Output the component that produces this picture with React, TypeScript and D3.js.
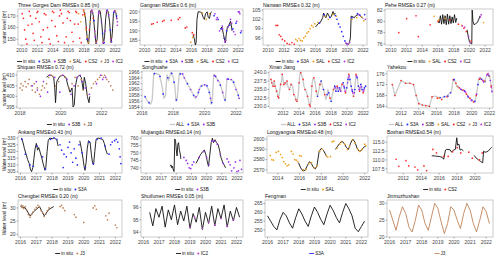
import * as React from 'react';
import * as d3 from 'd3';

type Pt = [number, number];
type Key = 'in situ' | 'ALL' | 'S3A' | 'S3B' | 'SAL' | 'CS2' | 'J3' | 'IC2';

const colors: Record<Key, string> = {
  'in situ': '#111111',
  ALL: '#c9c9c9',
  S3A: '#2c2cff',
  S3B: '#9a30f2',
  SAL: '#f0a020',
  CS2: '#ff2b2b',
  J3: '#c0835a',
  IC2: '#c03fd8',
};

// ---- Three Gorges Dam ----
const tgInSitu: Pt[] = [[2018.0,174],[2018.2,168],[2018.45,148],[2018.6,146],[2018.75,160],[2018.9,174],[2019.05,175],[2019.2,170],[2019.4,156],[2019.55,146],[2019.7,150],[2019.85,170],[2019.95,175],[2020.1,174],[2020.3,163],[2020.5,146],[2020.65,152],[2020.8,168],[2020.95,175],[2021.1,174],[2021.3,165],[2021.5,147],[2021.65,155],[2021.8,172],[2021.95,175],[2022.1,173],[2022.25,167]];
const tgCS2: Pt[] = [[2010.05,172],[2010.2,168],[2010.35,158],[2010.5,150],[2010.65,146],[2010.8,162],[2010.95,174],[2011.1,170],[2011.3,163],[2011.45,155],[2011.6,149],[2011.8,168],[2011.95,173],[2012.05,174],[2012.25,165],[2012.45,152],[2012.6,147],[2012.75,158],[2012.9,172],[2013.1,171],[2013.3,160],[2013.5,150],[2013.65,146],[2013.85,166],[2013.95,174],[2014.1,173],[2014.3,161],[2014.5,153],[2014.7,148],[2014.85,170],[2014.95,175],[2015.1,172],[2015.3,164],[2015.5,147],[2015.7,152],[2015.85,168],[2015.95,174],[2016.1,173],[2016.25,166],[2016.45,156],[2016.6,148],[2016.8,163],[2016.95,174],[2017.05,173],[2017.25,163],[2017.45,151],[2017.65,147],[2017.85,171],[2017.95,175],[2018.1,172],[2018.3,160],[2018.5,150],[2018.7,158],[2018.9,174],[2019.2,168],[2019.6,148]];
const tgSAL: Pt[] = [[2017.3,172],[2017.6,165],[2017.95,174],[2018.1,170],[2018.25,158],[2018.4,152],[2018.55,147],[2018.8,165],[2019.0,174]];
const tgS3A: Pt[] = [[2018.4,150],[2018.95,174],[2019.3,166],[2019.6,147],[2020.0,174],[2020.4,155],[2020.6,147],[2021.0,175],[2021.4,158],[2021.85,173],[2022.2,170]];
const tgS3B: Pt[] = [[2019.1,173],[2019.45,152],[2019.9,173],[2020.25,165],[2020.7,157],[2021.2,171],[2021.55,148],[2022.0,174],[2022.3,165]];
const tgJ3: Pt[] = [[2019.05,174],[2019.55,147],[2020.05,174],[2020.5,148],[2021.05,174],[2021.6,152],[2022.05,174]];
const tgIC2: Pt[] = [[2019.0,175],[2019.4,157],[2019.9,172],[2020.45,147],[2020.9,174],[2021.45,150],[2021.9,174],[2022.2,168],[2022.3,162]];

// ---- Gangnan ----
const gnInSitu: Pt[] = [[2016.2,188],[2016.35,186],[2016.5,182.5],[2016.6,184],[2016.7,196],[2016.85,200],[2017.1,200],[2017.3,199.5],[2017.5,197],[2017.65,196],[2017.8,199],[2018.0,200],[2018.15,197],[2018.3,196.5],[2018.45,199.5],[2018.6,200],[2019.7,191],[2019.9,192],[2020.1,188],[2020.25,185],[2020.35,184],[2020.45,188],[2020.6,192],[2020.8,193],[2021.0,195],[2021.1,193],[2021.2,190]];
const gnCS2: Pt[] = [[2010.9,193.5],[2011.1,193.8],[2011.6,194.5],[2012.3,195],[2012.5,195.5],[2013.4,195.5],[2014.3,196],[2014.5,197],[2015.2,191.5],[2015.4,192],[2016.1,189],[2016.3,188]];
const gnSAL: Pt[] = [[2015.9,184],[2016.15,186.5],[2017.4,199.5],[2017.9,196],[2018.3,199]];
const gnS3A: Pt[] = [[2018.9,198],[2019.4,196],[2019.8,191],[2020.2,186],[2020.5,190],[2020.9,193],[2021.3,191],[2021.7,194],[2022.1,200],[2022.3,189]];
const gnS3B: Pt[] = [[2019.0,199],[2019.3,197],[2019.6,190],[2019.95,192.5],[2020.3,184],[2020.7,192],[2021.0,196],[2021.4,189.5],[2021.8,195],[2022.0,200],[2022.2,199],[2022.4,190]];
const gnIC2: Pt[] = [[2019.2,196],[2020.0,191],[2020.4,185],[2021.15,194],[2021.6,188],[2022.15,200]];

// ---- Nanwan ----
const nwInSitu: Pt[] = [[2016.0,99.5],[2016.3,100.5],[2016.6,101],[2016.9,102.5],[2017.0,104],[2017.15,103],[2017.3,102.5],[2017.5,104],[2017.7,103],[2017.85,102.5],[2018.0,103],[2018.2,104.5],[2018.35,103.5],[2018.5,104],[2019.8,94.5],[2019.95,94],[2020.1,93.9],[2020.25,94.2],[2020.4,96],[2020.5,103],[2020.7,102.8],[2020.9,102.5],[2021.1,103.2],[2021.4,103.5],[2021.7,103],[2022.0,102.2]];
const nwCS2: Pt[] = [[2011.0,100],[2011.2,100],[2011.4,97],[2011.6,96.5],[2011.8,95.5],[2012.1,95],[2012.4,94.2],[2012.7,93.9],[2013.0,94.5],[2013.3,94]];
const nwSAL: Pt[] = [[2013.5,95.5],[2013.7,95],[2013.9,95.8],[2014.1,95.2],[2014.3,95],[2014.5,96],[2014.7,96.5],[2014.9,97.5],[2015.1,98],[2015.3,99],[2015.5,100],[2015.7,99.5],[2015.9,100.5],[2016.3,101],[2017.2,103],[2017.6,102],[2018.2,103.5],[2018.6,103],[2020.6,102],[2021.2,102.5],[2021.8,102.8],[2022.1,101.5]];
const nwS3A: Pt[] = [[2016.5,100.8],[2017.1,103.5],[2017.8,102.6],[2018.5,103.2],[2018.7,102],[2018.9,100.5],[2019.1,99.5],[2019.3,98],[2019.5,96.5],[2019.7,95],[2020.0,94],[2020.6,102.5],[2021.3,103.8],[2021.6,103.3],[2022.2,103.5]];
const nwIC2: Pt[] = [[2019.85,94.3],[2020.05,93.9],[2020.3,94.5],[2021.5,103.5],[2022.3,102]];

// ---- Pehe ----
const phInSitu: Pt[] = [[2016.0,80.1],[2016.15,79.7],[2016.3,81],[2016.45,79.5],[2016.6,81.2],[2016.75,79.6],[2016.9,81],[2017.05,79.4],[2017.2,81.3],[2017.35,79.5],[2017.5,81],[2017.65,79.6],[2017.8,80.8],[2017.95,79.7],[2018.1,81.2],[2018.25,79.8],[2018.4,80.6],[2019.7,78.5],[2019.85,77.3],[2020.0,76.4],[2020.15,76.1],[2020.3,76],[2020.35,82],[2020.45,80],[2020.6,79.4],[2020.8,79.6],[2021.0,79.8],[2021.2,80.4],[2021.35,81]];
const phCS2: Pt[] = [[2011.0,78],[2012.0,80.5],[2013.2,81],[2013.5,77.3],[2015.0,79.4],[2016.0,80],[2017.5,80.2],[2018.6,79.5],[2019.3,78.8],[2019.6,78.2],[2020.2,76.5]];
const phSAL: Pt[] = [[2015.5,80.9],[2016.1,80.3],[2016.9,80.5],[2019.0,79.3],[2021.8,79.8]];
const phIC2: Pt[] = [[2019.1,79.2],[2019.4,79],[2019.9,77.3],[2020.1,76.2],[2021.4,80.8],[2021.5,81.2]];

// ---- Shiquan ----
const sqInSitu: Pt[] = [[2019.3,409],[2019.4,410],[2019.55,410],[2019.65,409],[2019.7,404],[2019.74,397],[2019.8,407],[2019.95,409.5],[2020.1,410],[2020.25,409],[2020.35,405],[2020.45,402],[2020.55,404],[2020.6,395],[2020.66,396],[2020.72,405],[2020.8,409],[2020.9,410],[2021.0,409],[2021.1,403],[2021.15,409],[2021.22,406],[2021.3,400],[2021.38,397],[2021.42,400]];
const sqS3B: Pt[] = [[2018.6,405],[2018.8,407],[2018.85,403],[2019.0,400],[2019.15,407],[2019.35,402],[2019.45,410],[2019.7,409],[2019.95,402],[2020.1,410],[2020.3,408],[2020.5,401],[2020.65,405],[2020.8,409],[2020.95,410],[2021.05,407],[2021.2,404],[2021.4,401],[2021.75,406],[2021.95,410],[2022.05,408],[2022.2,409]];
const sqJ3: Pt[] = [[2018.0,404],[2018.05,406],[2018.1,403],[2018.15,405],[2018.25,407],[2018.3,404.5],[2018.4,406],[2018.45,408],[2018.55,405],[2018.6,403],[2018.7,406],[2018.75,402],[2018.85,404],[2018.95,401],[2019.05,403],[2019.1,405],[2019.2,404],[2019.3,406],[2019.4,409],[2019.5,410],[2019.6,409.5],[2019.75,405],[2019.9,407],[2020.05,410],[2020.2,409],[2020.4,404],[2020.55,406],[2020.7,409],[2020.85,405],[2021.0,408],[2021.1,403],[2021.3,401],[2021.5,404],[2021.6,406],[2021.7,407],[2021.8,408],[2021.9,409],[2022.0,410],[2022.1,409],[2022.15,410],[2022.25,408],[2022.35,407],[2022.45,405],[2022.55,403]];

// ---- Songhuahe ----
const shAll: Pt[] = [[2016.15,1958],[2016.35,1956],[2016.55,1955],[2016.65,1956.5],[2016.75,1965.5],[2016.9,1965.5],[2017.1,1965],[2017.25,1962],[2017.4,1957],[2017.5,1958],[2017.6,1965],[2017.7,1963],[2017.85,1966],[2018.0,1964],[2018.1,1961],[2018.17,1956],[2018.25,1957],[2018.38,1965.5],[2018.55,1965.5],[2018.8,1963],[2019.0,1961],[2019.2,1959],[2019.4,1957],[2019.55,1958],[2019.73,1961],[2019.9,1961.5],[2020.1,1961.5],[2020.25,1960],[2020.35,1958],[2020.42,1955],[2020.5,1957],[2020.58,1965],[2020.75,1964],[2020.95,1962.5],[2021.1,1960],[2021.25,1957],[2021.32,1956],[2021.42,1963.5],[2021.6,1963.5],[2021.8,1963],[2021.95,1961],[2022.1,1959],[2022.2,1957]];
const shS3A: Pt[] = [[2016.2,1957.5],[2016.45,1955.5],[2016.8,1965.4],[2017.15,1964.5],[2017.35,1958.5],[2017.65,1964],[2017.9,1965.5],[2018.05,1962.5],[2018.2,1956.5],[2018.45,1965.3],[2018.9,1962],[2019.3,1958],[2019.6,1959],[2019.8,1961.2],[2020.15,1961.3],[2020.3,1959],[2020.45,1955.5],[2020.7,1964.5],[2021.0,1961.5],[2021.3,1956.5],[2021.5,1963.5],[2021.85,1962.5],[2022.15,1958]];
const shS3B: Pt[] = [[2018.6,1965.3],[2018.7,1964],[2019.1,1960],[2019.45,1957.5],[2019.65,1960],[2020.0,1961.6],[2020.38,1957],[2020.62,1964.8],[2020.85,1963],[2021.15,1959],[2021.45,1963.5],[2021.7,1963.4],[2022.0,1960],[2022.2,1957]];

// ---- Xinan Jiang ----
const xjAll: Pt[] = [[2010.5,238],[2010.6,237],[2010.75,236],[2010.9,237.5],[2011.0,236],[2011.2,234.5],[2011.35,233],[2011.45,232.5],[2011.55,234],[2011.7,236.5],[2011.8,237.5],[2011.9,239.5],[2012.0,238],[2012.1,236.5],[2012.25,237],[2012.4,236.5],[2012.5,237.5],[2012.6,236],[2012.8,235],[2013.0,236.5],[2013.2,236],[2013.35,233.5],[2013.5,233],[2013.6,232],[2013.75,231.5],[2013.9,233.5],[2014.0,237],[2014.1,239.5],[2014.2,240],[2014.35,239],[2014.5,238],[2014.6,236],[2014.75,235],[2014.9,234.5],[2015.05,233],[2015.2,231.5],[2015.3,230.5],[2015.4,230],[2015.5,232],[2015.6,236],[2015.7,238],[2015.85,238.5],[2016.0,237],[2016.15,234.5],[2016.3,233],[2016.45,234.5],[2016.6,236.5],[2016.75,237.5],[2016.9,236],[2017.05,235],[2017.2,233.5],[2017.35,232],[2017.5,233.5],[2017.6,235],[2017.7,234],[2017.85,232.5],[2018.0,231.5],[2018.15,233.5],[2018.3,235],[2018.45,236],[2018.6,234.5],[2018.75,236],[2018.9,234.5],[2019.05,235.5],[2019.2,234.5],[2019.35,236.5],[2019.5,237],[2019.65,235.5],[2019.8,234],[2019.95,235.5],[2020.1,238],[2020.2,239.5],[2020.35,238],[2020.5,236],[2020.65,234.5],[2020.8,233],[2020.95,235],[2021.1,239.5],[2021.25,238.5],[2021.4,236],[2021.55,234.5],[2021.7,236.5],[2021.85,235],[2022.0,234],[2022.15,235.5],[2022.3,236]];
const xjCS2: Pt[] = [[2010.5,238],[2010.6,237],[2010.75,236],[2010.9,237.5],[2011.0,236],[2011.2,234.5],[2011.35,233],[2011.45,232.5],[2011.7,236.5],[2011.9,239.5],[2012.1,236.5],[2012.25,237],[2012.5,237.5],[2012.8,235],[2013.0,236.5],[2013.35,233.5],[2013.6,232],[2013.75,231.5],[2014.0,237],[2014.2,240],[2014.5,238],[2014.75,235],[2015.05,233],[2015.3,230.5],[2015.4,230],[2015.6,236],[2015.85,238.5],[2016.15,234.5],[2016.6,236.5],[2017.2,233.5],[2017.85,232.5],[2018.3,235],[2018.75,236],[2019.35,236.5],[2019.8,234],[2020.2,239.5],[2020.8,233],[2021.1,239.5],[2021.55,234.5],[2022.0,234]];
const xjS3A: Pt[] = [[2016.3,233],[2016.75,237.5],[2017.05,235],[2017.5,233.5],[2017.7,234],[2018.0,231.5],[2018.45,236],[2018.6,234.5],[2018.9,234.5],[2019.05,235.5],[2019.5,237],[2019.65,235.5],[2019.95,235.5],[2020.1,238],[2020.35,238],[2020.5,236],[2020.65,234.5],[2020.95,235],[2021.25,238.5],[2021.4,236],[2021.7,236.5],[2021.85,235],[2022.15,235.5],[2022.3,236]];
const xjS3B: Pt[] = [[2018.5,235.5],[2018.8,235.5],[2019.2,234.5],[2019.6,236],[2020.05,237],[2020.25,239],[2020.6,235],[2020.9,234],[2021.15,239],[2021.5,235],[2021.8,235.8],[2022.1,235]];
const xjIC2: Pt[] = [[2019.1,235],[2019.75,234.5],[2020.15,238.5],[2020.7,234],[2021.2,239],[2021.6,235.5],[2022.05,234.5]];

// ---- Yahekou ----
const yhAll: Pt[] = [[2011.0,172],[2011.3,168],[2012.0,173.5],[2012.5,172.5],[2013.0,172.5],[2013.4,172],[2013.7,168],[2014.0,165],[2014.4,164.5],[2014.8,164.3],[2015.2,164],[2015.5,167.5],[2015.9,167.8],[2016.2,167.3],[2016.5,167],[2016.8,167.5],[2017.1,167.7],[2017.4,168.5],[2017.7,169.5],[2017.85,173],[2017.95,174],[2018.1,173.2],[2018.3,171.5],[2018.5,171],[2018.7,170.5],[2018.9,169.8],[2019.1,170],[2019.3,169],[2019.5,168],[2019.7,167],[2019.9,166.5],[2020.1,166],[2020.3,165.6],[2020.45,167],[2020.6,170],[2020.75,173.5],[2020.9,174.5],[2021.05,174],[2021.2,173.5],[2021.4,173],[2021.6,174.5],[2021.75,176],[2021.9,175.5],[2022.05,174.5],[2022.15,172.5],[2022.25,170.5],[2022.3,169]];
const yhCS2: Pt[] = [[2011.0,172],[2011.3,168],[2012.0,173.5],[2012.5,172.5],[2013.0,172.5],[2013.4,172],[2013.7,168],[2014.0,165],[2014.4,164.5],[2014.8,164.3],[2015.2,164],[2015.5,167.5],[2016.1,167],[2016.6,166.5],[2017.2,167.5],[2017.9,173.8],[2018.2,172.5],[2018.6,170.8],[2019.0,170],[2019.4,168.5],[2019.8,167],[2020.2,165.6],[2020.5,168],[2020.85,174],[2021.3,173.3],[2021.8,175.8],[2022.2,171.5]];
const yhS3A: Pt[] = [[2016.4,167.2],[2016.9,167.6],[2017.3,167.8],[2017.6,169],[2018.0,173.8],[2018.4,171.3],[2018.8,170.2],[2019.2,169.6],[2019.6,167.5],[2020.0,166.3],[2020.35,165.8],[2020.7,172],[2021.1,174],[2021.5,173.2],[2021.95,175.3]];
const yhS3B: Pt[] = [[2018.75,170.3],[2019.15,169.8],[2019.55,167.8],[2019.95,166.2],[2020.55,168.5],[2020.95,174.4],[2021.35,173],[2021.7,175.5],[2022.1,173.5],[2022.28,169.5]];
const yhSAL: Pt[] = [[2016.3,167],[2018.35,171.4],[2021.45,173.4]];
const yhJ3: Pt[] = [[2021.0,174.2],[2022.0,175]];
const yhIC2: Pt[] = [[2019.3,169.2],[2021.25,173.6],[2021.85,176],[2022.2,171]];

// ---- Ankang ----
const akInSitu: Pt[] = [[2016.05,330],[2016.15,327],[2016.25,322],[2016.35,318],[2016.45,314],[2016.55,311],[2016.62,307],[2016.7,305],[2016.78,308],[2016.85,315],[2016.92,322],[2017.0,326],[2017.08,321],[2017.15,323],[2017.25,319],[2017.35,315],[2017.45,310],[2017.55,306],[2017.6,308],[2017.68,320],[2017.75,328],[2017.85,330],[2018.0,329.5],[2018.15,330],[2018.3,328.5],[2018.38,324],[2019.75,328],[2019.85,322],[2019.95,315],[2020.02,309],[2020.08,306],[2020.15,312],[2020.22,322],[2020.3,328],[2020.4,327],[2020.48,318],[2020.55,312],[2020.62,310],[2020.7,320],[2020.78,329],[2020.9,330],[2021.05,329.5],[2021.2,329],[2021.3,326],[2021.4,321],[2021.5,318]];
const akS3A: Pt[] = [[2016.1,329],[2016.3,318],[2016.6,310],[2016.8,309],[2017.05,324],[2017.4,316],[2017.58,307],[2017.9,329],[2018.1,330],[2018.3,329],[2018.5,325],[2018.6,321],[2018.7,308],[2018.75,318],[2018.9,316],[2019.0,323],[2019.1,327],[2019.2,319],[2019.3,312],[2019.4,322],[2019.5,315],[2019.6,310],[2019.7,325],[2019.9,319],[2020.1,308],[2020.35,327],[2020.6,311],[2020.85,329],[2021.1,330],[2021.35,324],[2021.6,318],[2021.7,325],[2021.8,327],[2021.95,328],[2022.05,329],[2022.15,327],[2022.25,322],[2022.3,316],[2022.35,311]];

// ---- Mujiangdu ----
const mjInSitu: Pt[] = [[2017.6,741],[2017.65,742],[2017.7,740],[2017.75,741],[2017.8,738.5],[2017.85,737.5],[2017.88,750],[2017.9,759.5],[2017.95,758],[2018.0,752],[2018.05,748],[2018.1,756],[2018.15,757],[2018.2,752],[2018.25,750],[2018.3,746],[2019.3,743],[2019.45,746],[2019.6,749],[2019.75,751],[2019.85,752],[2019.95,749],[2020.05,744],[2020.12,741],[2020.2,748],[2020.3,757],[2020.38,760],[2020.45,757],[2020.55,759],[2020.65,757],[2020.75,756],[2020.85,752],[2020.95,747],[2021.05,744],[2021.15,742],[2021.25,740]];
const mjS3B: Pt[] = [[2018.5,747],[2018.65,745],[2018.75,743],[2018.85,740],[2018.95,739.5],[2019.05,742],[2019.15,744],[2019.5,747],[2019.8,751],[2020.0,747],[2020.15,742],[2020.35,758],[2020.5,758],[2020.7,756],[2020.9,749],[2021.1,743],[2021.35,746],[2021.45,744],[2021.55,742],[2021.65,738],[2021.8,740],[2021.9,744],[2022.0,737.5],[2022.1,738],[2022.2,745],[2022.3,739]];

// ---- Longyangxia ----
const lyInSitu: Pt[] = [[2015.9,2577],[2016.1,2572],[2016.3,2569],[2016.5,2569.5],[2016.7,2574],[2016.9,2578],[2017.1,2576],[2017.3,2572],[2017.45,2571],[2017.6,2574],[2017.8,2588],[2018.0,2591],[2018.2,2589],[2018.4,2585],[2018.5,2583],[2019.3,2590],[2019.5,2593],[2019.7,2596],[2019.9,2598],[2020.1,2596],[2020.3,2592],[2020.5,2590],[2020.7,2596],[2020.9,2600],[2021.1,2597],[2021.3,2591],[2021.5,2588],[2021.7,2589],[2021.9,2592],[2022.1,2593]];
const lySAL: Pt[] = [[2013.3,2584],[2013.45,2580],[2013.6,2579.5],[2013.85,2587],[2014.05,2588],[2014.25,2585],[2014.4,2582],[2014.55,2578],[2014.7,2576],[2014.85,2574],[2015.0,2575],[2015.25,2588],[2015.4,2585.5],[2015.55,2580],[2015.7,2579.5],[2015.85,2578],[2016.0,2584],[2016.15,2583.5],[2016.35,2570],[2016.6,2570.5],[2016.85,2576],[2017.1,2577],[2017.35,2572],[2017.6,2574],[2017.85,2588],[2018.1,2590],[2018.45,2584],[2018.6,2582.5],[2018.85,2583],[2019.0,2597.5],[2019.15,2598],[2019.45,2591],[2019.7,2595],[2019.85,2597],[2020.15,2595],[2020.4,2590],[2020.6,2593],[2020.85,2599],[2021.1,2596],[2021.35,2590],[2021.55,2588],[2021.75,2590],[2022.0,2595],[2022.1,2593.5]];

// ---- Boshan ----
const bsInSitu: Pt[] = [[2015.17,111.2],[2015.6,111.1],[2016.0,111],[2016.3,110.8],[2016.5,110.2],[2016.7,112.8],[2016.84,113],[2017.2,112.9],[2017.4,112.2],[2017.58,112.8],[2017.8,113],[2017.96,116.3],[2018.05,114.2],[2018.2,114.5],[2018.33,112.8],[2018.5,113],[2018.7,112.6],[2019.9,111.3],[2020.1,110.6],[2020.4,110],[2020.6,109.6],[2020.85,109.2],[2020.95,112.5],[2021.1,112.2],[2021.3,112.3],[2021.5,112.6],[2021.7,113.2],[2021.85,113.6]];
const bsCS2: Pt[] = [[2011.2,110.2],[2011.5,108.2],[2012.3,109.8],[2012.6,108.3],[2013.3,108],[2013.6,107.2],[2014.3,108.3],[2014.6,107],[2015.3,113],[2015.7,112],[2016.5,111],[2017.0,111],[2017.5,112.3],[2018.0,113.5],[2018.4,112],[2019.3,112.2],[2019.7,110.5],[2020.5,110],[2020.8,112]];

// ---- Chengbei ----
const cbInSitu: Pt[] = [[2016.0,30.5],[2016.3,30],[2016.6,27],[2016.9,29],[2017.2,30.5],[2017.5,27],[2017.8,29.5],[2018.1,30.5]];
const cbJ3: Pt[] = [[2016.05,31],[2016.1,30.2],[2016.15,30.8],[2016.2,29.8],[2016.3,30.5],[2016.4,29],[2016.5,27.5],[2016.6,26.5],[2016.7,27.5],[2016.8,28.5],[2016.9,29.5],[2017.0,30.2],[2017.1,31],[2017.2,30.5],[2017.3,29],[2017.4,28],[2017.5,26.8],[2017.6,27.8],[2017.7,29],[2017.8,30],[2018.5,30.5],[2018.6,31],[2018.7,30],[2018.8,29],[2019.4,27.5],[2019.5,26.5],[2020.0,24.5],[2020.6,30],[2020.7,30.8],[2020.8,29.5],[2021.4,27],[2021.5,25.5],[2021.6,28],[2022.0,23.5],[2022.1,22.5]];

// ---- Shuifumen ----
const sfInSitu: Pt[] = [[2016.4,95.6],[2016.6,94.5],[2016.8,95.9],[2017.0,95.2],[2017.2,96.1],[2017.4,94.4],[2017.6,95.8],[2017.8,95],[2018.0,96.2],[2018.2,94.6],[2018.4,95.7],[2018.6,94.9],[2018.8,96.1],[2019.0,94.3],[2019.2,95.5],[2019.4,94.8],[2019.6,96],[2019.8,94.2],[2020.0,95.6],[2020.2,94.7],[2020.4,96.1],[2020.6,94.5],[2020.8,95.9],[2021.0,95.1],[2021.2,96.2],[2021.4,94.4],[2021.6,95.7],[2021.8,94.9],[2022.0,96],[2022.2,95.2]];
const sfIC2: Pt[] = [[2019.0,94.4],[2019.3,95.2],[2019.8,94.3],[2020.2,94.8],[2020.6,94.6],[2021.0,95.1],[2021.4,94.5],[2021.8,95]];

// ---- Fengman ----
const fmS3A: Pt[] = [[2016.0,258],[2016.2,255],[2016.4,252],[2016.6,250],[2016.8,256],[2017.0,260],[2017.2,258],[2017.4,254],[2017.6,251],[2017.8,257],[2018.0,262],[2018.2,259],[2018.4,255],[2018.6,252],[2018.8,258],[2019.0,263],[2019.2,260],[2019.4,256],[2019.6,253],[2019.8,259],[2020.0,264],[2020.2,261],[2020.4,257],[2020.6,254],[2020.8,260],[2021.0,265],[2021.2,262],[2021.4,258],[2021.6,251],[2021.8,249],[2022.0,252],[2022.2,255]];

// ---- Jinmuzhushan ----
const jmJ3: Pt[] = [[2016.0,28],[2016.2,25],[2016.4,22],[2016.6,26],[2016.8,29],[2017.0,27],[2017.2,23],[2017.4,21.5],[2017.6,25],[2017.8,29.5],[2018.0,28],[2018.2,24],[2018.4,22],[2018.6,26],[2018.8,30],[2019.0,28.5],[2019.2,24.5],[2019.4,21],[2019.6,24],[2019.8,29],[2020.0,28],[2020.2,25],[2020.4,22.5],[2020.6,27],[2020.8,30],[2021.0,28],[2021.2,24],[2021.4,21.5],[2021.6,25],[2021.8,29],[2022.0,27.5],[2022.2,24]];

const yearsAll = [2010, 2012, 2014, 2016, 2018, 2020, 2022];
const years2 = [2012, 2014, 2016, 2018, 2020, 2022];
const yearly = [2016, 2017, 2018, 2019, 2020, 2021, 2022];

interface PanelSpec {
  title: string;
  box: [number, number, number, number];
  x: [number, number];
  y: [number, number];
  xTicks: number[];
  yTicks: number[];
  yFmt?: string;
  ylab?: string;
  lines: [Key, Pt[]][];
  points: [Key, Pt[]][];
  legend: Key[];
  gap?: number;
}

const rows = [[9, 45], [71, 108], [136, 173], [200, 237]];
const bx = (x0: number, x1: number, row: number): [number, number, number, number] => [x0, x1, rows[row][0], rows[row][1]];

const panels: PanelSpec[] = [
  { title: 'Three Gorges Dam  RMSEs 0.85 (m)', box: bx(18, 122, 0), x: [2009.5, 2022.9], y: [145, 176], xTicks: yearsAll, yTicks: [150, 160, 170], ylab: 'water level (m)',
    lines: [['in situ', tgInSitu]], points: [['CS2', tgCS2], ['SAL', tgSAL], ['S3A', tgS3A], ['S3B', tgS3B], ['J3', tgJ3], ['IC2', tgIC2]], legend: ['in situ', 'S3A', 'S3B', 'SAL', 'CS2', 'J3', 'IC2'] },
  { title: 'Gangnan  RMSEs 0.6 (m)', box: bx(140, 243, 0), x: [2009.4, 2022.6], y: [182.5, 201.5], xTicks: yearsAll, yTicks: [185, 190, 195, 200],
    lines: [['in situ', gnInSitu]], points: [['CS2', gnCS2], ['SAL', gnSAL], ['S3A', gnS3A], ['S3B', gnS3B], ['IC2', gnIC2]], legend: ['in situ', 'S3A', 'S3B', 'SAL', 'CS2', 'IC2'] },
  { title: 'Nanwan  RMSEs 0.32 (m)', box: bx(263, 367, 0), x: [2009.35, 2022.5], y: [93.7, 105.3], xTicks: yearsAll, yTicks: [96, 99, 102, 105],
    lines: [['in situ', nwInSitu]], points: [['CS2', nwCS2], ['SAL', nwSAL], ['S3A', nwS3A], ['IC2', nwIC2]], legend: ['in situ', 'S3A', 'SAL', 'CS2', 'IC2'] },
  { title: 'Pehe  RMSEs 0.27 (m)', box: bx(385, 493, 0), x: [2009.25, 2023.0], y: [75.8, 82.2], xTicks: yearsAll, yTicks: [76, 78, 80, 82],
    lines: [['in situ', phInSitu]], points: [['CS2', phCS2], ['SAL', phSAL], ['IC2', phIC2]], legend: ['in situ', 'SAL', 'CS2', 'IC2'] },

  { title: 'Shiquan  RMSEs 0.72 (m)', box: bx(17, 122, 1), x: [2017.85, 2023.0], y: [394.5, 412], xTicks: [2018, 2020, 2022], yTicks: [395, 400, 405, 410], ylab: 'water level (m)',
    lines: [['in situ', sqInSitu]], points: [['J3', sqJ3], ['S3B', sqS3B]], legend: ['in situ', 'S3B', 'J3'] },
  { title: 'Songhuahe', box: bx(142, 243, 1), x: [2016, 2022.45], y: [1953.7, 1966.3], xTicks: [2016, 2018, 2020, 2022], yTicks: [1954, 1956, 1958, 1960, 1962, 1964, 1966], gap: 99,
    lines: [['ALL', shAll]], points: [['S3A', shS3A], ['S3B', shS3B]], legend: ['ALL', 'S3A', 'S3B'] },
  { title: 'Xinan Jiang', box: bx(269, 368, 1), x: [2010.25, 2022.6], y: [229.5, 240.5], xTicks: years2, yTicks: [230, 232.5, 235, 237.5, 240], yFmt: '.1f', gap: 99,
    lines: [['ALL', xjAll]], points: [['CS2', xjCS2], ['S3A', xjS3A], ['S3B', xjS3B], ['IC2', xjIC2]], legend: ['ALL', 'S3A', 'S3B', 'CS2', 'IC2'] },
  { title: 'Yahekou', box: bx(387, 493, 1), x: [2010.4, 2022.4], y: [163.4, 177], xTicks: years2, yTicks: [164, 168, 172, 176], gap: 99,
    lines: [['ALL', yhAll]], points: [['CS2', yhCS2], ['S3A', yhS3A], ['S3B', yhS3B], ['SAL', yhSAL], ['J3', yhJ3], ['IC2', yhIC2]], legend: ['ALL', 'S3A', 'S3B', 'SAL', 'CS2', 'J3', 'IC2'] },

  { title: 'Ankang  RMSEs0.43 (m)', box: bx(18, 122, 2), x: [2015.84, 2022.42], y: [304, 331.5], xTicks: yearly, yTicks: [305, 310, 315, 320, 325, 330], ylab: 'Water level (m)',
    lines: [['in situ', akInSitu]], points: [['S3A', akS3A]], legend: ['in situ', 'S3A'] },
  { title: 'Mujiangdu  RMSEs0.14 (m)', box: bx(141, 243, 2), x: [2015.67, 2022.4], y: [736.5, 761.5], xTicks: yearly, yTicks: [740, 745, 750, 755, 760],
    lines: [['in situ', mjInSitu]], points: [['S3B', mjS3B]], legend: ['in situ', 'S3B'] },
  { title: 'Longyangxia  RMSEs0.48 (m)', box: bx(267, 368, 2), x: [2013.0, 2022.3], y: [2567, 2603], xTicks: [2014, 2016, 2018, 2020, 2022], yTicks: [2570, 2580, 2590, 2600],
    lines: [['in situ', lyInSitu]], points: [['SAL', lySAL]], legend: ['in situ', 'SAL'] },
  { title: 'Boshan  RMSEs0.54 (m)', box: bx(387, 493, 2), x: [2010.18, 2022.0], y: [106.3, 116.8], xTicks: [2012, 2014, 2016, 2018, 2020], yTicks: [107.5, 110, 112.5, 115], yFmt: '.1f',
    lines: [['in situ', bsInSitu]], points: [['CS2', bsCS2]], legend: ['in situ', 'CS2'] },

  { title: 'Chengbei  RMSEs 0.20 (m)', box: bx(18, 122, 3), x: [2015.84, 2022.42], y: [19, 33], xTicks: yearly, yTicks: [20, 25, 30], ylab: 'Water level (m)',
    lines: [['in situ', cbInSitu]], points: [['J3', cbJ3]], legend: ['in situ', 'J3'] },
  { title: 'Shuifumen  RMSEs 0.05 (m)', box: bx(141, 243, 3), x: [2015.84, 2022.42], y: [93.6, 96.6], xTicks: yearly, yTicks: [94, 95, 96],
    lines: [['in situ', sfInSitu]], points: [['IC2', sfIC2]], legend: ['in situ', 'IC2'] },
  { title: 'Fengman', box: bx(265, 368, 3), x: [2015.84, 2022.42], y: [246, 267], xTicks: yearly, yTicks: [250, 255, 260, 265],
    lines: [['in situ', fmS3A]], points: [], legend: ['S3A'] },
  { title: 'Jinmuzhushan', box: bx(387, 493, 3), x: [2015.84, 2022.42], y: [20, 31], xTicks: yearly, yTicks: [20, 25, 30],
    lines: [['J3', jmJ3]], points: [], legend: ['J3'] },
];

const FONT = '"Liberation Sans", Arial, sans-serif';
const FS = 5;
const LFS = 4.6;

let ctx: CanvasRenderingContext2D | null = null;
const textWidth = (s: string, size: number) => {
  if (!ctx) ctx = document.createElement('canvas').getContext('2d');
  if (!ctx) return s.length * size * 0.55;
  ctx.font = `${size}px ${FONT}`;
  return ctx.measureText(s).width;
};

function splitSegments(data: Pt[], gap: number): Pt[][] {
  const out: Pt[][] = [];
  let cur: Pt[] = [];
  data.forEach((d, i) => {
    if (i > 0 && d[0] - data[i - 1][0] > gap) {
      out.push(cur);
      cur = [];
    }
    cur.push(d);
  });
  if (cur.length) out.push(cur);
  return out;
}

const Panel: React.FC<{ p: PanelSpec; idx: number }> = ({ p, idx }) => {
  const [x0, x1, y0, y1] = p.box;
  const x = d3.scaleLinear(p.x, [x0, x1]);
  const y = d3.scaleLinear(p.y, [y1, y0]);
  const fmt = p.yFmt ? d3.format(p.yFmt) : d3.format('d');
  const line = d3.line<Pt>().x((d) => x(d[0])).y((d) => y(d[1]));
  const clipId = `clip${idx}`;

  // legend: line keys are wider than dot keys
  const isLineKey = (k: Key) => k === 'in situ' || k === 'ALL' || p.points.length === 0;
  const items = p.legend.map((k) => {
    const kw = isLineKey(k) ? 5 : 3.2;
    return { k, kw, w: kw + 1 + textWidth(k, LFS) + 2.6 };
  });
  const total = d3.sum(items, (d) => d.w) - 2.6;
  let cx = (x0 + x1) / 2 - total / 2;
  const ly = y1 + 16.5;

  return (
    <g>
      <defs>
        <clipPath id={clipId}>
          <rect x={x0} y={y0} width={x1 - x0} height={y1 - y0} />
        </clipPath>
      </defs>
      <rect x={x0} y={y0} width={x1 - x0} height={y1 - y0} fill="#fff" stroke="#b5b5b5" strokeWidth={0.7} />
      <text x={x0} y={y0 - 2.4} fontSize={FS} fill="#111">{p.title}</text>
      {p.xTicks.map((t) => (
        <g key={`x${t}`}>
          <line x1={x(t)} x2={x(t)} y1={y1} y2={y1 + 1.5} stroke="#555" strokeWidth={0.5} />
          <text x={x(t)} y={y1 + 6.6} fontSize={FS} fill="#444" textAnchor="middle">{t}</text>
        </g>
      ))}
      {p.yTicks.map((t) => (
        <g key={`y${t}`}>
          <line x1={x0 - 1.5} x2={x0} y1={y(t)} y2={y(t)} stroke="#555" strokeWidth={0.5} />
          <text x={x0 - 2.4} y={y(t) + 1.8} fontSize={FS} fill="#444" textAnchor="end">{fmt(t)}</text>
        </g>
      ))}
      {p.ylab && (
        <text transform={`translate(6,${(y0 + y1) / 2}) rotate(-90)`} fontSize={FS} fill="#111" textAnchor="middle">{p.ylab}</text>
      )}
      <g clipPath={`url(#${clipId})`}>
        {p.lines.map(([k, data]) =>
          splitSegments(data, p.gap ?? 0.6).map((seg, i) => (
            <path key={`${k}${i}`} d={line(seg) ?? ''} fill="none" stroke={colors[k]} strokeWidth={k === 'ALL' ? 1.3 : 0.9} strokeLinejoin="round" />
          ))
        )}
        {p.points.map(([k, data]) =>
          data.map((d, i) => <circle key={`${k}${i}`} cx={x(d[0])} cy={y(d[1])} r={0.85} fill={colors[k]} />)
        )}
      </g>
      {items.map(({ k, kw, w }) => {
        const sx = cx;
        cx += w;
        return (
          <g key={`l${k}`}>
            {isLineKey(k) ? (
              <line x1={sx} x2={sx + kw} y1={ly} y2={ly} stroke={colors[k]} strokeWidth={k === 'ALL' ? 1.3 : 0.9} />
            ) : (
              <circle cx={sx + kw / 2} cy={ly} r={1} fill={colors[k]} />
            )}
            <text x={sx + kw + 1} y={ly + 1.65} fontSize={LFS} fill="#111">{k}</text>
          </g>
        );
      })}
    </g>
  );
};

const App: React.FC = () => (
  <svg
    width={500}
    height={257}
    viewBox="0 0 500 257"
    style={{ position: 'absolute', left: 0, top: 0, display: 'block', background: '#fff', fontFamily: FONT }}
  >
    {panels.map((p, i) => (
      <Panel key={p.title} p={p} idx={i} />
    ))}
  </svg>
);

export default App;
